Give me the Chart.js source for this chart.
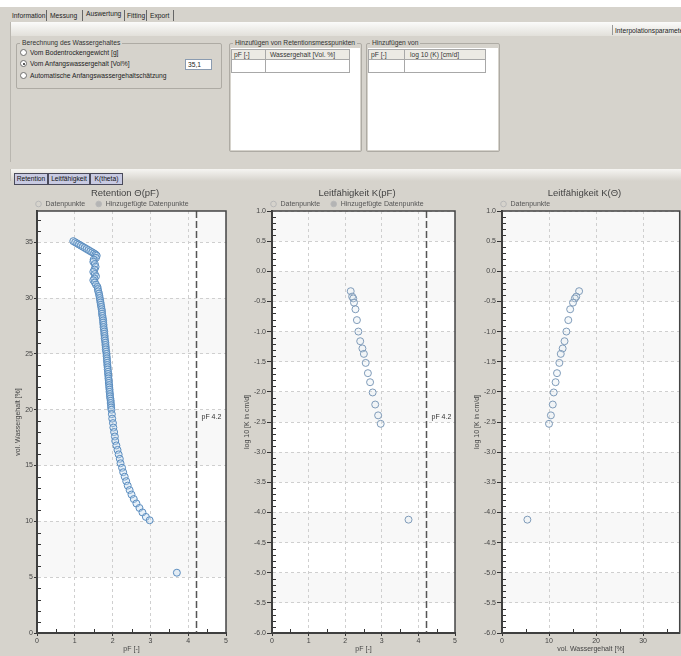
<!DOCTYPE html>
<html><head><meta charset="utf-8">
<script src="https://cdn.jsdelivr.net/npm/chart.js@4.4.1/dist/chart.umd.min.js"></script>
<style>
*{box-sizing:border-box}
html,body{margin:0;padding:0;overflow:hidden;}
body{width:681px;height:656px;position:relative;background:#d6d3cc;font-family:"Liberation Sans",Arial,sans-serif;font-size:6.7px;color:#222;}
.a{position:absolute;white-space:nowrap;line-height:9px;}
.grp{position:absolute;border:1px solid #aeaba4;border-radius:2px;}
.cap{background:#d6d3cc;padding:0 2px;color:#333;}
.radio{position:absolute;width:7px;height:7px;border-radius:50%;border:1px solid #6f6f6f;background:#fff;}
.radio.on::after{content:"";position:absolute;left:1.5px;top:1.5px;width:2px;height:2px;border-radius:50%;background:#222;}
.sep{position:absolute;width:1px;background:#666;}
.cell{position:absolute;line-height:10px;color:#333;}
.ctab{position:absolute;top:173px;height:12px;background:#c8cae2;border:1px solid #4a4a5a;text-align:center;line-height:10px;color:#111;}
canvas{position:absolute;}
</style></head><body>

<!-- top strip and main tabs -->
<div class="a" style="left:0;top:0;width:681px;height:7px;background:#fff"></div>
<div class="a" style="left:12px;top:11px">Information</div>
<div class="sep" style="left:46px;top:10px;height:11px"></div>
<div class="a" style="left:50px;top:11px">Messung</div>
<div class="sep" style="left:82px;top:10px;height:11px"></div>
<div class="a" style="left:86px;top:9px">Auswertung</div>
<div class="sep" style="left:124px;top:10px;height:11px"></div>
<div class="a" style="left:127px;top:11px">Fitting</div>
<div class="sep" style="left:146px;top:10px;height:11px"></div>
<div class="a" style="left:150px;top:11px">Export</div>
<div class="sep" style="left:173px;top:10px;height:11px"></div>

<!-- content panel -->
<div class="a" style="left:10px;top:22px;width:671px;height:140px;border-left:1px solid #b9b6af"></div>
<div class="a" style="left:11px;top:22px;width:670px;height:14px;background:linear-gradient(#fbfbfa,#e2e0da)"></div>
<div class="sep" style="left:612px;top:25px;height:10px;background:#999"></div>
<div class="a" style="left:615px;top:26px">Interpolationsparameter</div>

<!-- group 1 -->
<div class="grp" style="left:16px;top:43px;width:206px;height:46px"></div>
<div class="a cap" style="left:20px;top:38px">Berechnung des Wassergehaltes</div>
<div class="radio" style="left:20px;top:49px"></div>
<div class="a" style="left:30px;top:48px">Vom Bodentrockengewicht [g]</div>
<div class="radio on" style="left:20px;top:60px"></div>
<div class="a" style="left:30px;top:59px">Vom Anfangswassergehalt [Vol%]</div>
<div class="radio" style="left:20px;top:72px"></div>
<div class="a" style="left:30px;top:71px">Automatische Anfangswassergehaltschätzung</div>
<div class="a" style="left:185px;top:59px;width:27px;height:11px;background:#fff;border:1px solid #8a9bb0;padding-left:2px;line-height:9px">35,1</div>

<!-- group 2 -->
<div class="grp" style="left:229px;top:43px;width:133px;height:109px"></div>
<div class="a" style="left:231px;top:48px;width:129px;height:102px;background:#fff"></div>
<div class="a cap" style="left:233px;top:38px">Hinzufügen von Retentionsmesspunkten</div>
<div class="a" style="left:231px;top:49px;width:119px;height:11px;background:#eceae4;border:1px solid #a8a8a8"></div>
<div class="a" style="left:231px;top:59px;width:119px;height:14px;border:1px solid #a8a8a8;background:#fff"></div>
<div class="sep" style="left:265px;top:49px;height:24px;background:#a8a8a8"></div>
<div class="cell" style="left:234px;top:50px">pF [-]</div>
<div class="cell" style="left:270px;top:50px">Wassergehalt [Vol. %]</div>

<!-- group 3 -->
<div class="grp" style="left:366px;top:43px;width:134px;height:109px"></div>
<div class="a" style="left:368px;top:48px;width:130px;height:102px;background:#fff"></div>
<div class="a cap" style="left:370px;top:38px">Hinzufügen von</div>
<div class="a" style="left:368px;top:49px;width:118px;height:11px;background:#eceae4;border:1px solid #a8a8a8"></div>
<div class="a" style="left:368px;top:59px;width:118px;height:14px;border:1px solid #a8a8a8;background:#fff"></div>
<div class="sep" style="left:404px;top:49px;height:24px;background:#a8a8a8"></div>
<div class="cell" style="left:371px;top:50px">pF [-]</div>
<div class="cell" style="left:410px;top:50px">log 10 (K) [cm/d]</div>

<!-- chart tab strip -->
<div class="a" style="left:10px;top:169px;width:671px;height:12px;background:linear-gradient(#f6f5f2,#d6d3cc);border-left:1px solid #c0bdb6"></div>
<div class="ctab" style="left:14px;width:34px">Retention</div>
<div class="ctab" style="left:48px;width:42px">Leitfähigkeit</div>
<div class="ctab" style="left:90px;width:33px">K(theta)</div>

<canvas id="c1" width="250" height="470" style="left:0;top:186px"></canvas>
<canvas id="c2" width="234" height="470" style="left:240px;top:186px"></canvas>
<canvas id="c3" width="229" height="470" style="left:470px;top:186px"></canvas>

<script>
// ---------- data ----------
// Retention Θ(pF): pF [-] and vol. water content [%]
const retentionPF = [
  0.96,1.01,1.06,1.11,1.16,1.21,1.26,1.31,1.36,1.41,1.46,1.51,1.55,1.58,
  1.56,1.50,1.49,1.53,1.55,1.52,1.49,1.53,1.56,1.52,1.49,1.53,1.56,
  1.60,1.61,1.62,1.64,1.65,1.66,1.67,1.68,1.69,1.70,1.71,1.72,1.72,1.73,1.74,1.75,1.75,1.76,1.76,1.77,
  1.78,1.78,1.79,1.79,1.80,1.81,1.81,1.82,1.82,1.83,1.84,1.84,1.85,1.85,1.86,1.86,1.87,1.87,1.88,1.88,
  1.89,1.89,1.90,1.90,1.91,1.91,1.92,1.92,1.93,1.93,1.94,1.95,1.95,1.96,1.96,1.97,
  1.98,1.99,2.01,2.02,2.04,2.06,2.07,2.10,2.13,2.16,2.19,2.21,2.25,2.28,2.32,2.36,2.40,2.45,2.50,2.56,
  2.63,2.71,2.79,2.88,2.98,
  3.70
];
const retentionTheta = [
  35.1,35.0,34.9,34.8,34.7,34.6,34.5,34.4,34.3,34.2,34.1,34.0,33.9,33.8,
  33.6,33.45,33.25,33.05,32.8,32.55,32.35,32.15,31.95,31.75,31.6,31.4,31.2,
  31.0,30.8,30.6,30.4,30.2,30.0,29.8,29.6,29.4,29.2,29.0,28.8,28.6,28.4,28.2,28.0,27.8,27.6,27.4,27.2,
  27.0,26.8,26.6,26.4,26.2,26.0,25.8,25.6,25.4,25.2,25.0,24.8,24.6,24.4,24.2,24.0,23.8,23.6,23.4,23.2,
  23.0,22.8,22.6,22.4,22.2,22.0,21.8,21.6,21.4,21.2,21.0,20.8,20.6,20.4,20.2,20.0,
  19.6,19.2,18.8,18.4,18.0,17.6,17.2,16.8,16.4,16.0,15.6,15.2,14.8,14.4,14.0,13.6,13.2,12.8,12.4,12.0,
  11.6,11.2,10.8,10.4,10.1,
  5.4
];
// Conductivity points
const condPF    = [2.15,2.19,2.22,2.24,2.28,2.32,2.36,2.41,2.47,2.51,2.56,2.62,2.68,2.75,2.82,2.90,2.97,3.73];
const condLogK  = [-0.33,-0.42,-0.45,-0.52,-0.63,-0.81,-1.00,-1.16,-1.28,-1.37,-1.52,-1.69,-1.84,-2.01,-2.21,-2.39,-2.53,-4.12];
const condTheta = [16.4,15.8,15.5,15.1,14.5,14.1,13.7,13.3,12.9,12.5,12.2,11.7,11.4,11.0,10.8,10.4,10.0,5.4];
// reference line (wilting point)
const refLinePF = [4.2];
const refLineLabels = ['pF 4.2'];
// axis ranges / tick steps
const pfRange = [0, 5], pfStep = 1, pfMinor = 0.5;
const thetaRange = [0, 37.8], thetaStep = 5, thetaMinor = 1;
const logKRange = [-6, 1], logKStep = 0.5, logKMinor = 0.1;
const thetaXStep = 10, thetaXMinor = 5;
const legendLabels = ['Datenpunkte', 'Hinzugefügte Datenpunkte'];

// ---------- drawing ----------
const FONT = '"Liberation Sans", Arial, sans-serif';

const decorPlugin = {
  id: 'decor',
  afterLayout(chart) {
    const o = chart.options.plugins.decor;
    const lg = chart.legend;
    if (lg) {
      const pad = 10;
      lg.left = chart.chartArea.left - 2 - pad;
      lg.top = o.legendY - pad - 3.5;
    }
    const tb = chart.titleBlock;
    if (tb) { tb.left = 0; tb.right = chart.width; tb.width = chart.width; }
  },
  beforeDraw(chart) {
    const {ctx, chartArea: a, scales: {y}} = chart;
    ctx.save();
    ctx.fillStyle = '#ffffff';
    ctx.fillRect(a.left, a.top, a.width, a.height);
    const t = y.ticks.map(k => k.value);
    ctx.fillStyle = '#f8f8f8';
    for (let i = 1; i < t.length; i += 2) {
      const v1 = i + 1 < t.length ? t[i + 1] : y.max;
      const p0 = y.getPixelForValue(t[i]), p1 = y.getPixelForValue(v1);
      ctx.fillRect(a.left, p1, a.width, p0 - p1);
    }
    ctx.restore();
  },
  beforeDatasetsDraw(chart) {
    const o = chart.options.plugins.decor;
    if (!o.refLines) return;
    const {ctx, chartArea: a, scales: {x}} = chart;
    ctx.save();
    o.refLines.forEach((v, i) => {
      const px = Math.round(x.getPixelForValue(v)) + 0.5;
      ctx.strokeStyle = '#555';
      ctx.lineWidth = 1.5;
      ctx.setLineDash([7, 3]);
      ctx.beginPath(); ctx.moveTo(px, a.top); ctx.lineTo(px, a.bottom); ctx.stroke();
      ctx.setLineDash([]);
      ctx.fillStyle = '#333';
      ctx.font = '7px ' + FONT;
      ctx.textBaseline = 'middle';
      ctx.fillText(o.refLabels[i], px + 5, (a.top + a.bottom) / 2 - 5);
    });
    ctx.restore();
  },
  afterDraw(chart) {
    const o = chart.options.plugins.decor;
    const {ctx, chartArea: a, scales: {x, y}} = chart;
    ctx.save();
    ctx.strokeStyle = '#333';
    ctx.lineWidth = 1;
    ctx.beginPath();
    const ny = Math.floor((y.max - y.min) / o.yMinor + 1e-6);
    for (let i = 1; i <= ny; i++) {
      const v = y.min + i * o.yMinor;
      if (Math.abs(v / o.yMajor - Math.round(v / o.yMajor)) < 1e-6) continue;
      const p = Math.round(y.getPixelForValue(v)) + 0.5;
      ctx.moveTo(a.left, p); ctx.lineTo(a.left + 4, p);
    }
    const nx = Math.floor((x.max - x.min) / o.xMinor + 1e-6);
    for (let i = 1; i <= nx; i++) {
      const v = x.min + i * o.xMinor;
      if (Math.abs(v / o.xMajor - Math.round(v / o.xMajor)) < 1e-6) continue;
      const p = Math.round(x.getPixelForValue(v)) + 0.5;
      ctx.moveTo(p, a.bottom); ctx.lineTo(p, a.bottom - 4);
    }
    ctx.stroke();
    ctx.lineWidth = 1.5;
    ctx.strokeStyle = '#444';
    ctx.strokeRect(a.left, a.top, a.width, a.height);
    ctx.restore();
  }
};

function legendItems(chart) {
  const items = Chart.defaults.plugins.legend.labels.generateLabels(chart);
  items.forEach((it, i) => {
    it.pointStyle = 'circle';
    it.lineWidth = 1;
    it.strokeStyle = '#b8b8b8';
    it.fillStyle = i === 0 ? 'rgba(255,255,255,0)' : '#b4b4b4';
    it.fontColor = '#555';
  });
  return items;
}

function makeChart(id, o) {
  return new Chart(document.getElementById(id), {
    type: 'scatter',
    data: {datasets: o.datasets},
    options: {
      responsive: false, animation: false, devicePixelRatio: 1,
      layout: {padding: {left: 0, right: o.padRight, top: 0, bottom: 0}},
      events: [],
      plugins: {
        title: {display: true, text: o.title, color: '#444',
          font: {family: FONT, size: 9.5, weight: 'normal'}, padding: {top: 1.3, bottom: 0}},
        legend: {display: true, position: 'top', align: 'start', maxHeight: 12.3,
          labels: {usePointStyle: true, boxHeight: 4, boxWidth: 8, padding: 10,
            color: '#555', font: {family: FONT, size: 7}, generateLabels: legendItems}},
        tooltip: {enabled: false},
        decor: {legendY: 18, refLines: o.refLines, refLabels: refLineLabels,
          xMinor: o.xMinor, xMajor: o.xStep, yMinor: o.yMinor, yMajor: o.yStep}
      },
      scales: {
        x: {type: 'linear', position: 'bottom', min: o.xRange[0], max: o.xRange[1],
          afterFit(s) { s.height = 23; },
          title: {display: true, text: o.xTitle, color: '#444', font: {family: FONT, size: 7}, padding: {top: 0, bottom: 2.8}},
          ticks: {stepSize: o.xStep, includeBounds: false, autoSkip: false, maxRotation: 0,
            color: '#444', font: {family: FONT, size: 7}, padding: 1, callback: v => String(v)},
          grid: {color: '#cfcfcf', lineWidth: 1, tickLength: 3, tickColor: '#333', tickWidth: 1},
          border: {display: true, color: '#333', width: 2, dash: [3, 3]}},
        y: {type: 'linear', position: 'left', min: o.yRange[0], max: o.yRange[1],
          afterFit(s) { s.width = o.yWidth; },
          title: {display: true, text: o.yTitle, color: '#444', font: {family: FONT, size: 7}, padding: {top: o.yTitlePad, bottom: 0}},
          ticks: {stepSize: o.yStep, includeBounds: false, autoSkip: false,
            color: '#444', font: {family: FONT, size: 7}, padding: 1, callback: o.yFmt},
          grid: {color: '#cfcfcf', lineWidth: 1, tickLength: o.yTickLen, tickColor: '#333', tickWidth: 1},
          border: {display: true, color: '#333', width: 2, dash: [3, 3]}}
      }
    },
    plugins: [decorPlugin]
  });
}

const blueStyle = {pointRadius: 3.5, pointBorderWidth: 1, pointBorderColor: 'rgb(92,142,192)',
  pointBackgroundColor: 'rgba(190,215,238,0.35)', pointHoverRadius: 3.5};
const greyBlueStyle = {pointRadius: 3.5, pointBorderWidth: 1, pointBorderColor: 'rgb(128,156,186)',
  pointBackgroundColor: 'rgba(220,230,240,0.25)', pointHoverRadius: 3.5};
const addedStyle = {pointRadius: 3.5, pointBorderWidth: 1, pointBorderColor: '#999', pointBackgroundColor: '#b4b4b4'};

makeChart('c1', {
  title: 'Retention Θ(pF)', xTitle: 'pF [-]', yTitle: 'vol. Wassergehalt [%]',
  xRange: pfRange, xStep: pfStep, xMinor: pfMinor,
  yRange: thetaRange, yStep: thetaStep, yMinor: thetaMinor, yFmt: v => String(v),
  yWidth: 37, yTitlePad: 14.1, yTickLen: 3, padRight: 24, refLines: refLinePF,
  datasets: [
    Object.assign({label: legendLabels[0], data: retentionPF.map((p, i) => ({x: p, y: retentionTheta[i]}))}, blueStyle),
    Object.assign({label: legendLabels[1], data: []}, addedStyle)
  ]
});

makeChart('c2', {
  title: 'Leitfähigkeit K(pF)', xTitle: 'pF [-]', yTitle: 'log 10 [K in cm/d]',
  xRange: pfRange, xStep: pfStep, xMinor: pfMinor,
  yRange: logKRange, yStep: logKStep, yMinor: logKMinor, yFmt: v => Number(v).toFixed(1),
  yWidth: 32, yTitlePad: 3.1, yTickLen: 5, padRight: 19, refLines: refLinePF,
  datasets: [
    Object.assign({label: legendLabels[0], data: condPF.map((p, i) => ({x: p, y: condLogK[i]}))}, greyBlueStyle),
    Object.assign({label: legendLabels[1], data: []}, addedStyle)
  ]
});

makeChart('c3', {
  title: 'Leitfähigkeit K(Θ)', xTitle: 'vol. Wassergehalt [%]', yTitle: 'log 10 [K in cm/d]',
  xRange: thetaRange, xStep: thetaXStep, xMinor: thetaXMinor,
  yRange: logKRange, yStep: logKStep, yMinor: logKMinor, yFmt: v => Number(v).toFixed(1),
  yWidth: 32, yTitlePad: 3.1, yTickLen: 5, padRight: 19.3, refLines: null,
  datasets: [
    Object.assign({label: legendLabels[0], data: condTheta.map((t, i) => ({x: t, y: condLogK[i]}))}, greyBlueStyle)
  ]
});
</script>
</body></html>
